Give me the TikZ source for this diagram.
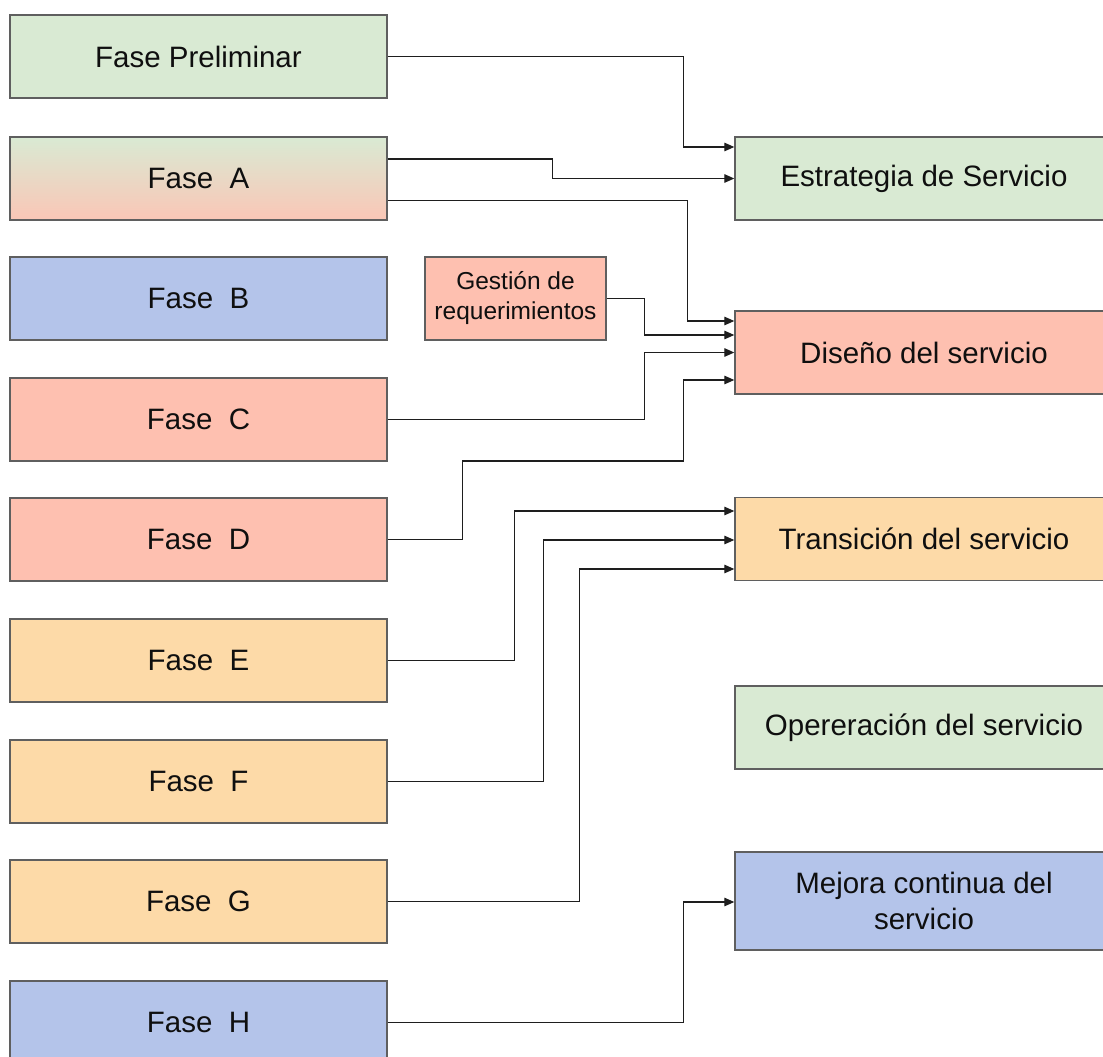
\documentclass[tikz,border=0pt]{standalone}
\usepackage{fontspec}
\setmainfont{Liberation Sans}
\usetikzlibrary{arrows.meta}

\definecolor{cgreen}{RGB}{217,234,211}
\definecolor{csalmon}{RGB}{254,192,176}
\definecolor{csalmonA}{RGB}{250,198,182}
\definecolor{corange}{RGB}{253,218,168}
\definecolor{cblue}{RGB}{180,196,234}
\definecolor{cborder}{RGB}{95,95,95}
\definecolor{ctext}{RGB}{15,15,15}
\definecolor{cline}{RGB}{30,30,30}

\tikzset{
  box/.style={draw=cborder, line width=1.4pt, rectangle, inner sep=0pt,
    align=center, text=ctext, font=\fontsize{29.5}{36}\selectfont},
  phase/.style={box, minimum width=377pt, minimum height=83pt},
  area/.style={box, minimum width=378pt, minimum height=83pt},
  small/.style={box, minimum width=181pt, minimum height=83pt,
    font=\fontsize{24.5}{30}\selectfont},
  conn/.style={draw=cline, line width=1.3pt,
    -{Triangle[length=10pt,width=8.5pt]}},
}

\begin{document}
\begin{tikzpicture}[x=1pt, y=-1pt]
  \useasboundingbox (0,0) rectangle (1103,1057);
  \clip (0,0) rectangle (1103,1057);
  \fill[white] (0,0) rectangle (1103,1057);

  % phases of the architecture cycle
  \node[phase, fill=cgreen] (pre) at (198.5,56.5) {Fase Preliminar};
  \node[phase, top color=cgreen, bottom color=csalmonA] (A) at (198.5,178.5) {Fase\ \ A};
  \node[phase, fill=cblue] (B) at (198.5,298.5) {Fase\ \ B};
  \node[phase, fill=csalmon] (C) at (198.5,419.5) {Fase\ \ C};
  \node[phase, fill=csalmon] (D) at (198.5,539.5) {Fase\ \ D};
  \node[phase, fill=corange] (E) at (198.5,660.5) {Fase\ \ E};
  \node[phase, fill=corange] (F) at (198.5,781.5) {Fase\ \ F};
  \node[phase, fill=corange] (G) at (198.5,901.5) {Fase\ \ G};
  \node[phase, fill=cblue] (H) at (198.5,1022.5) {Fase\ \ H};

  % requirements management
  \node[small, fill=csalmon] (ges) at (515.5,298.5) {Gestión de\\requerimientos};

  % service lifecycle stages
  \node[area, fill=cgreen] (est) at (924,178.5) {Estrategia de Servicio};
  \node[area, fill=csalmon] (dis) at (924,352.5) {Diseño del servicio};
  \node[area, fill=corange] (tra) at (924,539) {Transición del servicio};
  \node[area, fill=cgreen] (ope) at (924,727.5) {Opereración del servicio};
  \node[area, fill=cblue, minimum height=98pt] (mej) at (924,901) {Mejora continua del\\servicio};

  % connectors
  \draw[conn] (pre.east) -| ([xshift=-51pt,yshift=31.5pt]est.west) -- ([yshift=31.5pt]est.west);
  \draw[conn] ([yshift=19.5pt]A.east) -| ([xshift=-182pt]est.west) -- (est.west);
  \draw[conn] ([yshift=-22pt]A.east) -| ([xshift=-47pt,yshift=31.5pt]dis.west) -- ([yshift=31.5pt]dis.west);
  \draw[conn] (ges.east) -| ([xshift=-90pt,yshift=17.5pt]dis.west) -- ([yshift=17.5pt]dis.west);
  \draw[conn] (C.east) -| ([xshift=-90pt]dis.west) -- (dis.west);
  \draw[conn] (D.east) -- ++(75,0) -- ++(0,-78.5) -| ([xshift=-51pt,yshift=-27.5pt]dis.west) -- ([yshift=-27.5pt]dis.west);
  \draw[conn] (E.east) -| ([xshift=-220pt,yshift=28pt]tra.west) -- ([yshift=28pt]tra.west);
  \draw[conn] (F.east) -| ([xshift=-191pt,yshift=-1pt]tra.west) -- ([yshift=-1pt]tra.west);
  \draw[conn] (G.east) -| ([xshift=-155pt,yshift=-30pt]tra.west) -- ([yshift=-30pt]tra.west);
  \draw[conn] (H.east) -| ([xshift=-51pt,yshift=-1pt]mej.west) -- ([yshift=-1pt]mej.west);
\end{tikzpicture}
\end{document}
